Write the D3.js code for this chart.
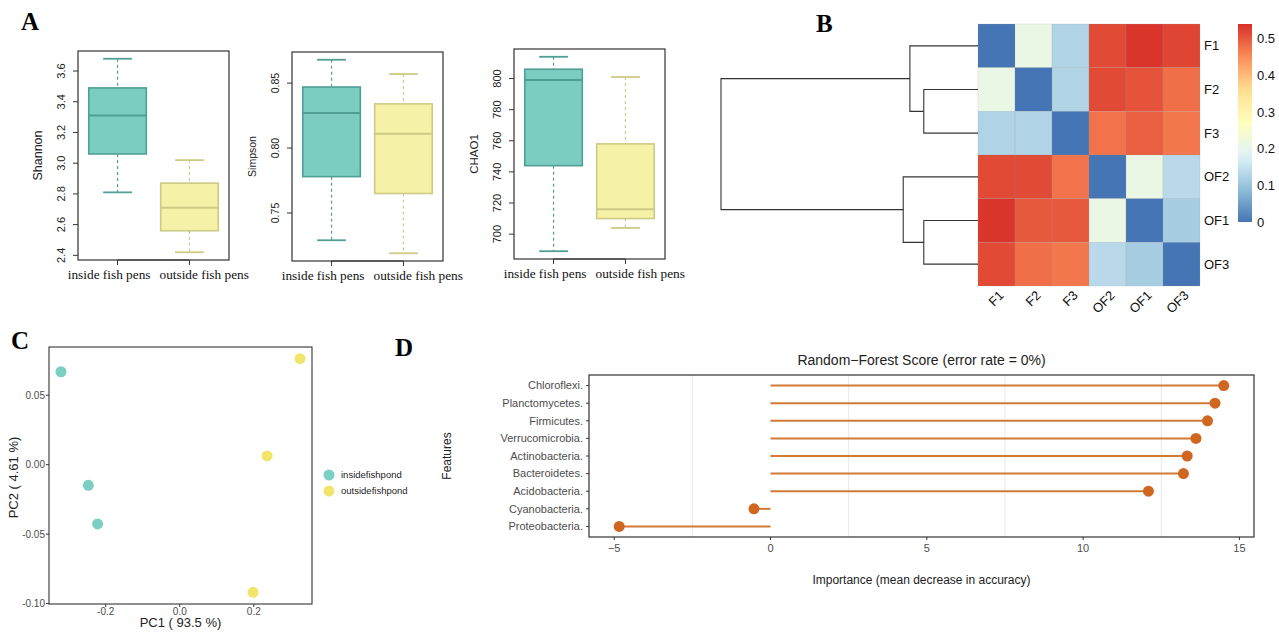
<!DOCTYPE html>
<html>
<head>
<meta charset="utf-8">
<script src="https://cdn.jsdelivr.net/npm/d3@7"></script>
<style>
  body { margin: 0; background: white; }
</style>
</head>
<body>
<div id="svg-container"></div>
<script>
// ---------- data ----------
// panel A: five-number summaries [min, q1, median, q3, max]
var groups         = ["inside fish pens", "outside fish pens"];
var shannonInside  = [2.81, 3.06, 3.31, 3.49, 3.68];
var shannonOutside = [2.42, 2.56, 2.71, 2.87, 3.02];
var simpsonInside  = [0.729, 0.778, 0.827, 0.847, 0.868];
var simpsonOutside = [0.719, 0.765, 0.811, 0.834, 0.857];
var chaoInside     = [689, 744, 799, 806, 814];
var chaoOutside    = [704, 710, 716, 758, 801];
var shannonTicks   = [2.4, 2.6, 2.8, 3.0, 3.2, 3.4, 3.6];
var simpsonTicks   = [0.75, 0.80, 0.85];
var chaoTicks      = [700, 720, 740, 760, 780, 800];

// panel B: distance heatmap, rows/cols in dendrogram order
var samples = ["F1", "F2", "F3", "OF2", "OF1", "OF3"];
var distF1  = [0,     0.21,  0.125, 0.515, 0.535, 0.52];
var distF2  = [0.21,  0,     0.125, 0.515, 0.505, 0.48];
var distF3  = [0.125, 0.125, 0,     0.475, 0.495, 0.47];
var distOF2 = [0.515, 0.515, 0.475, 0,     0.21,  0.135];
var distOF1 = [0.535, 0.50,  0.50,  0.21,  0,     0.115];
var distOF3 = [0.515, 0.48,  0.47,  0.135, 0.115, 0];
var colorbarTicks = [0, 0.1, 0.2, 0.3, 0.4, 0.5];
var dendroTree = { height: 1, children: [
  { height: 0.265, children: [ { name: "F1" },
    { height: 0.211, children: [ { name: "F2" }, { name: "F3" } ] } ] },
  { height: 0.291, children: [ { name: "OF2" },
    { height: 0.211, children: [ { name: "OF1" }, { name: "OF3" } ] } ] }
]};

// panel C: PCA scores
var pcaGroups  = ["insidefishpond", "outsidefishpond"];
var pc1Inside  = [-0.321, -0.247, -0.222];
var pc2Inside  = [0.0669, -0.0149, -0.0427];
var pc1Outside = [0.325, 0.236, 0.198];
var pc2Outside = [0.0763, 0.0063, -0.0919];
var pc1Ticks   = [-0.2, 0.0, 0.2];
var pc2Ticks   = [-0.10, -0.05, 0.00, 0.05];

// panel D: random forest importance
var features = ["Chloroflexi.", "Planctomycetes.", "Firmicutes.", "Verrucomicrobia.",
                "Actinobacteria.", "Bacteroidetes.", "Acidobacteria.", "Cyanobacteria.",
                "Proteobacteria."];
var importance      = [14.50, 14.22, 13.98, 13.61, 13.33, 13.21, 12.09, -0.53, -4.84];
var importanceTicks = [-5, 0, 5, 10, 15];
var importanceGrid  = [-2.5, 2.5, 7.5, 12.5];

// ---------- svg ----------
var svg = d3.select("#svg-container")
  .append("svg")
  .attr("width", 1279)
  .attr("height", 633);

svg.append("rect").attr("width", "100%").attr("height", "100%").style("fill", "white");

var sans  = "'Liberation Sans', Arial, sans-serif";
var serif = "'Liberation Serif', 'Times New Roman', serif";

// panel letters
[["A", 21, 30], ["B", 816, 32], ["C", 11, 349], ["D", 395, 356]].forEach(function(p) {
  svg.append("text").attr("x", p[1]).attr("y", p[2]).text(p[0])
    .attr("font-family", serif).attr("font-weight", "bold").attr("font-size", 25);
});

// ---------- panel A : boxplots ----------
var insideStyle  = { fill: "#7bcdc2", stroke: "#4f9f95" };
var outsideStyle = { fill: "#f5f2a7", stroke: "#cdca85" };

function boxPanel(cfg) {
  var g = svg.append("g").attr("transform", "translate(" + cfg.x + "," + cfg.y + ")");
  var all = cfg.inside.concat(cfg.outside);
  var lo = d3.min(all), hi = d3.max(all), pad = (hi - lo) * 0.04;
  var y = d3.scaleLinear().domain([lo - pad, hi + pad]).range([cfg.h, 0]);
  var x = d3.scalePoint().domain(groups).range([0, cfg.w]).padding(0.55);
  var bw = x.step() * 0.8;

  [[cfg.inside, insideStyle], [cfg.outside, outsideStyle]].forEach(function(b, i) {
    var s = b[0], st = b[1], cx = x(groups[i]);
    // whiskers
    g.append("line").attr("x1", cx).attr("x2", cx).attr("y1", y(s[4])).attr("y2", y(s[3]))
      .attr("stroke", st.stroke).attr("stroke-dasharray", "3,3").attr("stroke-width", 1.2);
    g.append("line").attr("x1", cx).attr("x2", cx).attr("y1", y(s[1])).attr("y2", y(s[0]))
      .attr("stroke", st.stroke).attr("stroke-dasharray", "3,3").attr("stroke-width", 1.2);
    [s[0], s[4]].forEach(function(v) {
      g.append("line").attr("x1", cx - bw / 4).attr("x2", cx + bw / 4).attr("y1", y(v)).attr("y2", y(v))
        .attr("stroke", st.stroke).attr("stroke-width", 1.8);
    });
    g.append("rect").attr("x", cx - bw / 2).attr("width", bw)
      .attr("y", y(s[3])).attr("height", y(s[1]) - y(s[3]))
      .attr("fill", st.fill).attr("stroke", st.stroke).attr("stroke-width", 1.6);
    g.append("line").attr("x1", cx - bw / 2).attr("x2", cx + bw / 2).attr("y1", y(s[2])).attr("y2", y(s[2]))
      .attr("stroke", st.stroke).attr("stroke-width", 2);
  });

  // frame
  g.append("rect").attr("width", cfg.w).attr("height", cfg.h)
    .attr("fill", "none").attr("stroke", "#333").attr("stroke-width", 1.2);

  // left axis (R style, rotated labels)
  cfg.ticks.forEach(function(t) {
    g.append("line").attr("x1", -5).attr("x2", 0).attr("y1", y(t)).attr("y2", y(t)).attr("stroke", "#333");
    g.append("text").attr("transform", "translate(-13," + y(t) + ") rotate(-90)")
      .attr("text-anchor", "middle").attr("font-family", sans).attr("font-size", cfg.tickSize).attr("fill", "#222")
      .text(cfg.fmt(t));
  });
  g.append("text").attr("transform", "translate(-36," + cfg.h / 2 + ") rotate(-90)")
    .attr("text-anchor", "middle").attr("font-family", sans).attr("font-size", cfg.titleSize).attr("fill", "#222")
    .text(cfg.label);

  // bottom axis
  g.append("line").attr("x1", x(groups[0])).attr("x2", x(groups[1])).attr("y1", cfg.h).attr("y2", cfg.h)
    .attr("stroke", "#333");
  groups.forEach(function(gr, i) {
    g.append("line").attr("x1", x(gr)).attr("x2", x(gr)).attr("y1", cfg.h).attr("y2", cfg.h + 5).attr("stroke", "#333");
    g.append("text")
      .attr("x", i === 0 ? cfg.w / 2 - 3 : cfg.w / 2 + 6)
      .attr("y", cfg.h + 19)
      .attr("text-anchor", i === 0 ? "end" : "start")
      .attr("font-family", serif).attr("font-size", 13.3).attr("fill", "#111").text(gr);
  });
}

boxPanel({ x: 78, y: 51, w: 151, h: 209, inside: shannonInside, outside: shannonOutside,
           ticks: shannonTicks, fmt: d3.format(".1f"), label: "Shannon", tickSize: 11, titleSize: 12.5 });
boxPanel({ x: 292, y: 52, w: 151, h: 209, inside: simpsonInside, outside: simpsonOutside,
           ticks: simpsonTicks, fmt: d3.format(".2f"), label: "Simpson", tickSize: 10.5, titleSize: 10.5 });
boxPanel({ x: 514, y: 49, w: 151, h: 210, inside: chaoInside, outside: chaoOutside,
           ticks: chaoTicks, fmt: d3.format("d"), label: "CHAO1", tickSize: 11, titleSize: 11.5 });

// ---------- panel B : heatmap with dendrogram ----------
var distRows = [distF1, distF2, distF3, distOF2, distOF1, distOF3];
var heatX = d3.scaleBand().domain(samples).range([978, 1200]);
var heatY = d3.scaleBand().domain(samples).range([24, 286]);
var heatColors = ["#4575b4", "#91bfdb", "#e0f3f8", "#ffffbf", "#fee090", "#fc8d59", "#d73027"];
var heatMax = 0.54;
var heatColor = d3.scaleLinear()
  .domain(heatColors.map(function(c, i) { return i * heatMax / (heatColors.length - 1); }))
  .range(heatColors);

var heatG = svg.append("g");
distRows.forEach(function(row, i) {
  heatG.selectAll(null)
    .data(row)
    .enter()
      .append("rect")
      .attr("x", function(d, j) { return heatX(samples[j]); })
      .attr("y", heatY(samples[i]))
      .attr("width", heatX.bandwidth())
      .attr("height", heatY.bandwidth())
      .attr("fill", function(d) { return heatColor(d); })
      .attr("stroke", "#999").attr("stroke-opacity", 0.35).attr("stroke-width", 0.5);
});

// row and column labels
samples.forEach(function(s) {
  svg.append("text").attr("x", 1204).attr("y", heatY(s) + heatY.bandwidth() / 2)
    .attr("dy", "0.35em").attr("font-family", sans).attr("font-size", 13).attr("fill", "#111").text(s);
  svg.append("text")
    .attr("transform", "translate(" + (heatX(s) + heatX.bandwidth() / 2 + 5) + ",293) rotate(-45)")
    .attr("text-anchor", "end").attr("dy", "0.35em")
    .attr("font-family", sans).attr("font-size", 13).attr("fill", "#111").text(s);
});

// dendrogram
var dendroX = d3.scaleLinear().domain([0, 1]).range([978, 721]);
var root = d3.hierarchy(dendroTree);
root.eachAfter(function(n) {
  if (!n.children) n.py = heatY(n.data.name) + heatY.bandwidth() / 2;
  else n.py = d3.mean(n.children, function(c) { return c.py; });
  n.px = dendroX(n.data.height || 0);
});
root.descendants().filter(function(n) { return n.children; }).forEach(function(n) {
  var a = n.children[0], b = n.children[1];
  svg.append("path")
    .attr("d", "M" + a.px + "," + a.py + "H" + n.px + "V" + b.py + "H" + b.px)
    .attr("fill", "none").attr("stroke", "#333").attr("stroke-width", 1.1);
});

// colorbar
var cbY = d3.scaleLinear().domain([0, heatMax]).range([222, 24]);
var grad = svg.append("defs").append("linearGradient").attr("id", "cbGrad")
  .attr("x1", 0).attr("y1", 1).attr("x2", 0).attr("y2", 0);
d3.range(0, 1.0001, 0.05).forEach(function(t) {
  grad.append("stop").attr("offset", t).attr("stop-color", heatColor(t * heatMax));
});
svg.append("rect").attr("x", 1238).attr("width", 14).attr("y", cbY(heatMax)).attr("height", cbY(0) - cbY(heatMax))
  .attr("fill", "url(#cbGrad)");
colorbarTicks.forEach(function(t) {
  svg.append("text").attr("x", 1257).attr("y", cbY(t)).attr("dy", "0.35em")
    .attr("font-family", sans).attr("font-size", 13).attr("fill", "#111").text(t);
});

// ---------- panel C : PCA ----------
var pc = { x: 49, y: 347, w: 263, h: 257 };
function expand(vals, f) {
  var lo = d3.min(vals), hi = d3.max(vals), p = (hi - lo) * f;
  return [lo - p, hi + p];
}
var pcX = d3.scaleLinear().domain(expand(pc1Inside.concat(pc1Outside), 0.05)).range([pc.x, pc.x + pc.w]);
var pcY = d3.scaleLinear().domain(expand(pc2Inside.concat(pc2Outside), 0.05)).range([pc.y + pc.h, pc.y]);
var pcaColors = ["#7ccfc3", "#f0e56a"];

svg.append("rect").attr("x", pc.x).attr("y", pc.y).attr("width", pc.w).attr("height", pc.h)
  .attr("fill", "none").attr("stroke", "#333").attr("stroke-width", 1.1);

[[pc1Inside, pc2Inside], [pc1Outside, pc2Outside]].forEach(function(s, gi) {
  svg.selectAll(null)
    .data(s[0])
    .enter()
      .append("circle")
      .attr("cx", function(d) { return pcX(d); })
      .attr("cy", function(d, i) { return pcY(s[1][i]); })
      .attr("r", 5.5)
      .attr("fill", pcaColors[gi]);
});

var pcFmtX = function(d) { return d3.format(".1f")(d).replace("−", "-"); };
var pcFmtY = function(d) { return d3.format(".2f")(d).replace("−", "-"); };
pc1Ticks.forEach(function(t) {
  svg.append("line").attr("x1", pcX(t)).attr("x2", pcX(t)).attr("y1", pc.y + pc.h).attr("y2", pc.y + pc.h + 3).attr("stroke", "#333");
  svg.append("text").attr("x", pcX(t)).attr("y", pc.y + pc.h + 11).attr("text-anchor", "middle")
    .attr("font-family", sans).attr("font-size", 10).attr("fill", "#4d4d4d").text(pcFmtX(t));
});
pc2Ticks.forEach(function(t) {
  svg.append("line").attr("x1", pc.x - 3).attr("x2", pc.x).attr("y1", pcY(t)).attr("y2", pcY(t)).attr("stroke", "#333");
  svg.append("text").attr("x", pc.x - 4).attr("y", pcY(t)).attr("dy", "0.35em").attr("text-anchor", "end")
    .attr("font-family", sans).attr("font-size", 10).attr("fill", "#4d4d4d").text(pcFmtY(t));
});
svg.append("text").attr("x", pc.x + pc.w / 2).attr("y", 627).attr("text-anchor", "middle")
  .attr("font-family", sans).attr("font-size", 13).attr("fill", "#222").text("PC1 ( 93.5 %)");
svg.append("text").attr("transform", "translate(18," + (pc.y + pc.h / 2 + 2) + ") rotate(-90)")
  .attr("text-anchor", "middle").attr("font-family", sans).attr("font-size", 13).attr("fill", "#222")
  .text("PC2 ( 4.61 %)");

pcaGroups.forEach(function(gr, i) {
  svg.append("circle").attr("cx", 329).attr("cy", 475 + i * 16).attr("r", 5.5).attr("fill", pcaColors[i]);
  svg.append("text").attr("x", 341).attr("y", 475 + i * 16).attr("dy", "0.35em")
    .attr("font-family", sans).attr("font-size", 9.5).attr("fill", "#222").text(gr);
});

// ---------- panel D : random forest lollipop ----------
var rf = { x: 589, y: 375, w: 665, h: 162 };
var rfX = d3.scaleLinear().domain(expand(importance.concat([0]), 0.05)).range([rf.x, rf.x + rf.w]);
var rfY = d3.scalePoint().domain(features).range([rf.y, rf.y + rf.h]).padding(0.6);

importanceGrid.forEach(function(v) {
  svg.append("line").attr("x1", rfX(v)).attr("x2", rfX(v)).attr("y1", rf.y).attr("y2", rf.y + rf.h)
    .attr("stroke", "#e3e3e3").attr("stroke-width", 0.8);
});

svg.selectAll(null)
  .data(importance)
  .enter()
    .append("line")
    .attr("x1", rfX(0))
    .attr("x2", function(d) { return rfX(d); })
    .attr("y1", function(d, i) { return rfY(features[i]); })
    .attr("y2", function(d, i) { return rfY(features[i]); })
    .attr("stroke", "#d27a35").attr("stroke-width", 2);

svg.selectAll(null)
  .data(importance)
  .enter()
    .append("circle")
    .attr("cx", function(d) { return rfX(d); })
    .attr("cy", function(d, i) { return rfY(features[i]); })
    .attr("r", 5.5)
    .attr("fill", "#d0661f");

svg.append("rect").attr("x", rf.x).attr("y", rf.y).attr("width", rf.w).attr("height", rf.h)
  .attr("fill", "none").attr("stroke", "#333").attr("stroke-width", 1.2);

importanceTicks.forEach(function(t) {
  svg.append("line").attr("x1", rfX(t)).attr("x2", rfX(t)).attr("y1", rf.y + rf.h).attr("y2", rf.y + rf.h + 3).attr("stroke", "#333");
  svg.append("text").attr("x", rfX(t)).attr("y", rf.y + rf.h + 15).attr("text-anchor", "middle")
    .attr("font-family", sans).attr("font-size", 11).attr("fill", "#4d4d4d").text(t < 0 ? "\u2212" + (-t) : t);
});
features.forEach(function(f) {
  svg.append("line").attr("x1", rf.x - 3).attr("x2", rf.x).attr("y1", rfY(f)).attr("y2", rfY(f)).attr("stroke", "#333");
  svg.append("text").attr("x", rf.x - 6).attr("y", rfY(f)).attr("dy", "0.35em").attr("text-anchor", "end")
    .attr("font-family", sans).attr("font-size", 11).attr("fill", "#4d4d4d").text(f);
});

svg.append("text").attr("x", rf.x + rf.w / 2).attr("y", 365).attr("text-anchor", "middle")
  .attr("font-family", sans).attr("font-size", 14).attr("fill", "#222")
  .text("Random\u2212Forest Score (error rate = 0%)");
svg.append("text").attr("x", rf.x + rf.w / 2).attr("y", 584).attr("text-anchor", "middle")
  .attr("font-family", sans).attr("font-size", 12).attr("fill", "#222")
  .text("Importance (mean decrease in accuracy)");
svg.append("text").attr("transform", "translate(451," + (rf.y + rf.h / 2) + ") rotate(-90)")
  .attr("text-anchor", "middle").attr("font-family", sans).attr("font-size", 12).attr("fill", "#222")
  .text("Features");
</script>
</body>
</html>
